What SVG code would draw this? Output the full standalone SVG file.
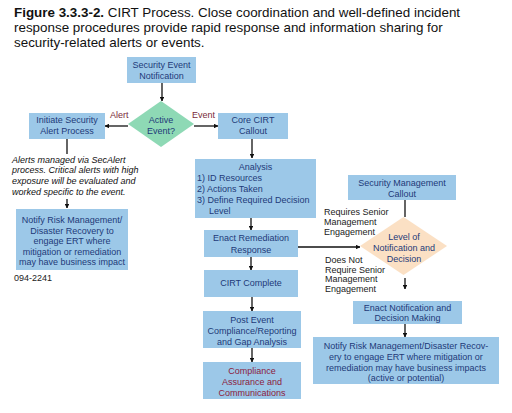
<svg xmlns="http://www.w3.org/2000/svg" width="512" height="413" viewBox="0 0 512 413">
<style>
.bg{fill:#ffffff}
.box{fill:#9cc8e8}
.t{font-family:"Liberation Sans",Arial,sans-serif;font-size:9px;fill:#1e3a78;text-anchor:middle}
.tl{font-family:"Liberation Sans",Arial,sans-serif;font-size:9px;fill:#1e3a78}
.red{fill:#8b2040}
.lab{font-family:"Liberation Sans",Arial,sans-serif;font-size:9px;fill:#7a2b3a}
.note{font-family:"Liberation Sans",Arial,sans-serif;font-size:9px;fill:#222222}
.it{font-family:"Liberation Sans",Arial,sans-serif;font-size:9px;font-style:italic;fill:#111111}
.title{font-family:"Liberation Sans",Arial,sans-serif;font-size:13.4px;fill:#111111}
.ln{stroke:#111111;stroke-width:1.3;fill:none}
.arr{stroke:#111111;stroke-width:1.3;fill:none;marker-end:url(#ah)}
</style>
<defs>
<marker id="ah" viewBox="0 0 10 10" refX="9" refY="5" markerWidth="4.5" markerHeight="4.5" markerUnits="userSpaceOnUse" orient="auto">
<path d="M0,0 L10,5 L0,10 z" fill="#111111"/>
</marker>
</defs>
<rect class="bg" x="0" y="0" width="512" height="413"/>
<g id="title">
<text class="title" x="14" y="17"><tspan font-weight="bold">Figure 3.3.3-2.</tspan> CIRT Process. Close coordination and well-defined incident</text>
<text class="title" x="14" y="32">response procedures provide rapid response and information sharing for</text>
<text class="title" x="14" y="47">security-related alerts or events.</text>
</g>
<g id="connectors">
<line class="arr" x1="162" y1="83" x2="162" y2="101"/>
<line class="arr" x1="128" y1="126" x2="105" y2="126"/>
<line class="arr" x1="194" y1="126" x2="218" y2="126"/>
<line class="ln" x1="67" y1="139" x2="67" y2="154"/>
<line class="arr" x1="67" y1="199" x2="67" y2="208"/>
<line class="arr" x1="252" y1="139" x2="252" y2="158"/>
<line class="arr" x1="251" y1="218" x2="251" y2="230"/>
<line class="arr" x1="251" y1="257" x2="251" y2="270"/>
<line class="arr" x1="252" y1="297" x2="252" y2="311"/>
<line class="arr" x1="252" y1="348" x2="252" y2="362"/>
<line class="arr" x1="298" y1="247" x2="360" y2="247"/>
<line class="ln" x1="405" y1="200" x2="405" y2="217"/>
<line class="arr" x1="405" y1="278" x2="405" y2="289"/>
<line class="arr" x1="405" y1="324" x2="405" y2="337"/>
</g>
<g id="n-security-event">
<rect class="box" x="127" y="57" width="69" height="26"/>
<text class="t" x="161.5" y="68">Security Event</text>
<text class="t" x="161.5" y="79">Notification</text>
</g>
<g id="n-active-event">
<polygon points="161,101 194,124 161,147 128,124" fill="#8ed9b5"/>
<text class="t" x="161" y="123" fill="#1e2f4f">Active</text>
<text class="t" x="161" y="134" fill="#1e2f4f">Event?</text>
</g>
<g id="labels">
<text class="lab" x="110" y="118">Alert</text>
<text class="lab" x="192" y="118">Event</text>
</g>
<g id="n-initiate">
<rect class="box" x="29" y="113" width="76" height="26"/>
<text class="t" x="67" y="123">Initiate Security</text>
<text class="t" x="67" y="134">Alert Process</text>
</g>
<g id="n-core-cirt">
<rect class="box" x="218" y="113" width="70" height="26"/>
<text class="t" x="253" y="123">Core CIRT</text>
<text class="t" x="253" y="134">Callout</text>
</g>
<g id="n-alerts-note">
<text class="it" x="12" y="162.5">Alerts managed via SecAlert</text>
<text class="it" x="12" y="173.3">process. Critical alerts with high</text>
<text class="it" x="12" y="184.1">exposure will be evaluated and</text>
<text class="it" x="12" y="194.9">worked specific to the event.</text>
</g>
<g id="n-notify-left">
<rect class="box" x="16" y="209" width="112" height="61"/>
<text class="t" x="72" y="223.3">Notify Risk Management/</text>
<text class="t" x="72" y="233.8">Disaster Recovery to</text>
<text class="t" x="72" y="244.3">engage ERT where</text>
<text class="t" x="72" y="254.8">mitigation or remediation</text>
<text class="t" x="72" y="265.3">may have business impact</text>
</g>
<g id="n-docnum">
<text class="note" x="14" y="281" font-size="7px">094-2241</text>
</g>
<g id="n-analysis">
<rect class="box" x="195" y="159" width="121" height="59"/>
<text class="t" x="255.5" y="170">Analysis</text>
<text class="tl" x="197" y="181">1) ID Resources</text>
<text class="tl" x="197" y="192">2) Actions Taken</text>
<text class="tl" x="197" y="203">3) Define Required Decision</text>
<text class="tl" x="209" y="214">Level</text>
</g>
<g id="n-enact-remediation">
<rect class="box" x="204" y="230" width="94" height="27"/>
<text class="t" x="251" y="241">Enact Remediation</text>
<text class="t" x="251" y="252.5">Response</text>
</g>
<g id="n-cirt-complete">
<rect class="box" x="204" y="270" width="94" height="27"/>
<text class="t" x="251" y="286">CIRT Complete</text>
</g>
<g id="n-post-event">
<rect class="box" x="203" y="311" width="98" height="37"/>
<text class="t" x="252" y="322.5">Post Event</text>
<text class="t" x="252" y="333.5">Compliance/Reporting</text>
<text class="t" x="252" y="344.5">and Gap Analysis</text>
</g>
<g id="n-compliance">
<rect class="box" x="203" y="362" width="98" height="37"/>
<text class="t red" x="252" y="373.5">Compliance</text>
<text class="t red" x="252" y="384.5">Assurance and</text>
<text class="t red" x="252" y="395.5">Communications</text>
</g>
<g id="n-sec-mgmt">
<rect class="box" x="348" y="175" width="108" height="25"/>
<text class="t" x="402" y="186">Security Management</text>
<text class="t" x="402" y="197">Callout</text>
</g>
<g id="n-level">
<polygon points="403.5,217 447,246 403.5,275 360,246" fill="#fbe0c4"/>
<text class="t" x="404" y="240" fill="#1e2f4f">Level of</text>
<text class="t" x="404" y="251" fill="#1e2f4f">Notification and</text>
<text class="t" x="404" y="262" fill="#1e2f4f">Decision</text>
</g>
<g id="decision-labels">
<text class="note" x="324" y="215">Requires Senior</text>
<text class="note" x="324" y="225">Management</text>
<text class="note" x="324" y="234.5">Engagement</text>
<text class="note" x="325" y="262.5">Does Not</text>
<text class="note" x="325" y="272.5">Require Senior</text>
<text class="note" x="325" y="282">Management</text>
<text class="note" x="325" y="291.5">Engagement</text>
</g>
<g id="n-enact-notification">
<rect class="box" x="353" y="301" width="109" height="23"/>
<text class="t" x="407.5" y="310.5">Enact Notification and</text>
<text class="t" x="407.5" y="321">Decision Making</text>
</g>
<g id="n-notify-right">
<rect class="box" x="313" y="337" width="186" height="47"/>
<text class="t" x="406" y="349">Notify Risk Management/Disaster Recov-</text>
<text class="t" x="406" y="359.5">ery to engage ERT where mitigation or</text>
<text class="t" x="406" y="370.5">remediation may have business impacts</text>
<text class="t" x="406" y="381">(active or potential)</text>
</g>
</svg>
